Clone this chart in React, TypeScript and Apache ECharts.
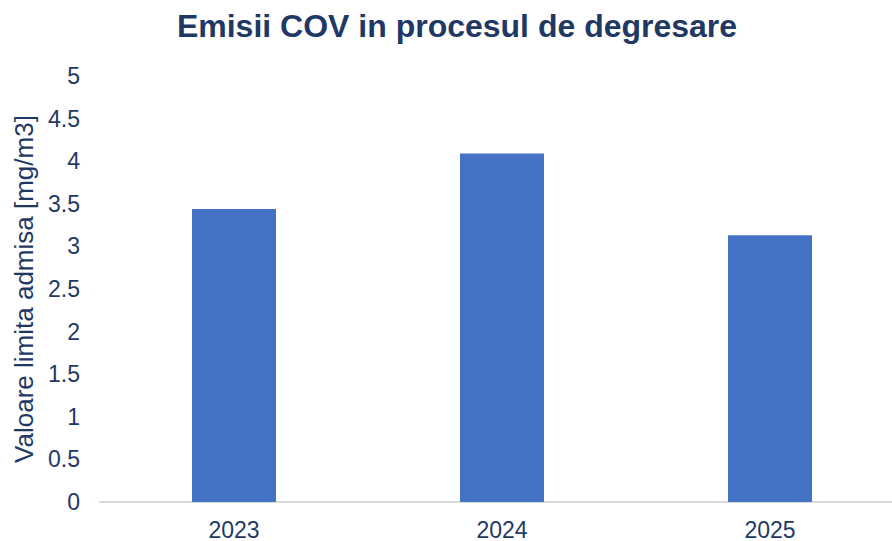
import React, { useEffect, useRef } from "react";
import * as echarts from "echarts";

const categories = ["2023", "2024", "2025"];
const values = [3.44, 4.09, 3.13];
const title = "Emisii COV in procesul de degresare";
const yAxisName = "Valoare limita admisa [mg/m3]";

export default function App() {
  const ref = useRef<HTMLDivElement>(null);
  useEffect(() => {
    if (!ref.current) return;
    const chart = echarts.init(ref.current, null, { renderer: "svg" });
    const textColor = "#1F3864";
    const ff = "Liberation Sans, Arial, sans-serif";
    chart.setOption({
      animation: false,
      backgroundColor: "#ffffff",
      title: {
        text: title,
        left: 452,
        textAlign: "center",
        top: 5,
        textStyle: { fontFamily: ff, fontSize: 32, fontWeight: "bold", color: textColor },
      },
      grid: { left: 100, top: 76, width: 804, height: 426, containLabel: false, outerBoundsMode: "none" },
      xAxis: {
        type: "category",
        data: categories,
        axisLine: { show: true, lineStyle: { color: "#D9D9D9", width: 2 } },
        axisTick: { show: false },
        axisLabel: { margin: 16, fontFamily: ff, fontSize: 23, color: textColor },
      },
      yAxis: {
        type: "value",
        min: 0,
        max: 5,
        interval: 0.5,
        name: yAxisName,
        nameLocation: "middle",
        nameGap: 63,
        nameTextStyle: { fontFamily: ff, fontSize: 26, color: textColor },
        axisLine: { show: false },
        axisTick: { show: false },
        splitLine: { show: false },
        axisLabel: { margin: 20, fontFamily: ff, fontSize: 23, color: textColor },
      },
      series: [
        {
          type: "bar",
          data: values,
          barWidth: 84,
          itemStyle: { color: "#4472C4" },
        },
      ],
    });
    return () => chart.dispose();
  }, []);
  return <div ref={ref} style={{ width: 892, height: 541, position: "absolute", left: 0, top: 0 }} />;
}
